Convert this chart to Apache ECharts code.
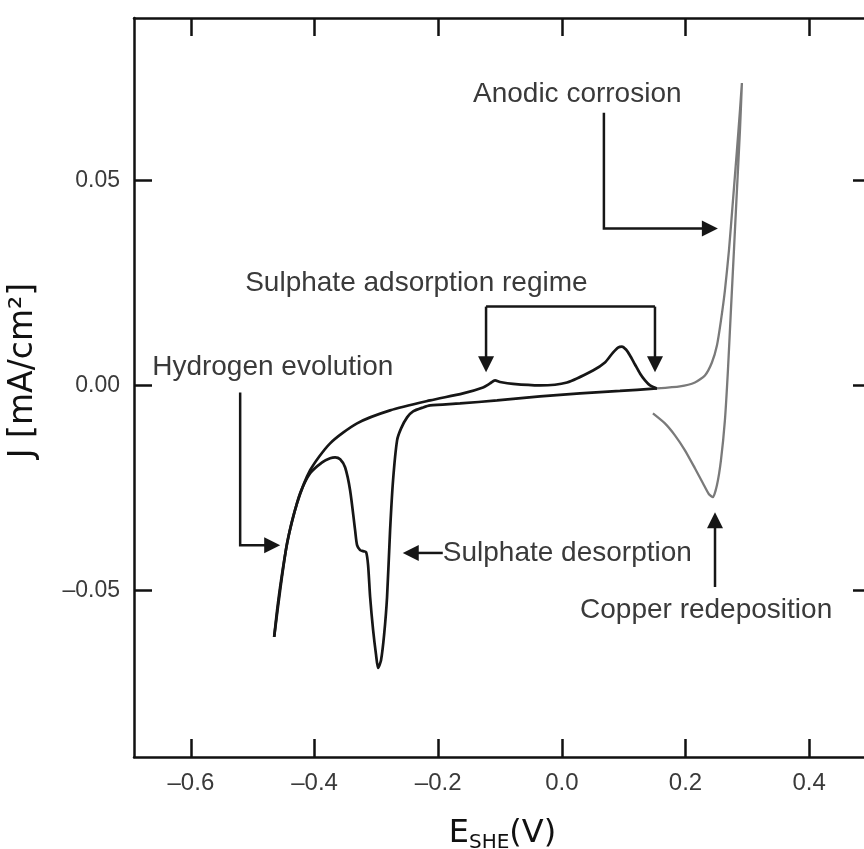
<!DOCTYPE html>
<html>
<head>
<meta charset="utf-8">
<script src="https://cdn.jsdelivr.net/npm/echarts@6/dist/echarts.min.js"></script>
<style>
  html, body { margin: 0; padding: 0; background: #fff; }
  #chart { width: 864px; height: 849px; }
</style>
</head>
<body>
<div id="chart"></div>
<script>
// axis ticks
var xTicks = [-0.6, -0.4, -0.2, 0.0, 0.2, 0.4];
var yTicks = [-0.05, 0.0, 0.05];

// cathodic sweep, black: from 0.15 V back down to hydrogen evolution
var cathodic = [
  [0.1538, -0.00073], [0.0940, -0.00134], [0.0293, -0.00194], [-0.0353, -0.00267],
  [-0.1048, -0.00365], [-0.1647, -0.00438], [-0.2132, -0.00486], [-0.2245, -0.00535],
  [-0.2406, -0.00632], [-0.2503, -0.00778], [-0.2600, -0.01045], [-0.2665, -0.01337],
  [-0.2730, -0.02309], [-0.2778, -0.03525], [-0.2827, -0.05153], [-0.2875, -0.06077],
  [-0.2924, -0.06685], [-0.2972, -0.06879], [-0.3005, -0.06563], [-0.3053, -0.05955],
  [-0.3101, -0.05153], [-0.3134, -0.04375], [-0.3166, -0.04059], [-0.3215, -0.04035],
  [-0.3263, -0.04011], [-0.3312, -0.03889], [-0.3344, -0.03525], [-0.3425, -0.02552],
  [-0.3506, -0.01993], [-0.3586, -0.01799], [-0.3667, -0.01750], [-0.3748, -0.01774],
  [-0.3877, -0.01872], [-0.4071, -0.02139], [-0.4233, -0.02625], [-0.4346, -0.03208],
  [-0.4443, -0.03840], [-0.4540, -0.04740], [-0.4605, -0.05469], [-0.4653, -0.06125]
];

// anodic sweep, black: hydrogen region up through the sulphate peaks
var anodic = [
  [-0.4653, -0.06125], [-0.4556, -0.04983], [-0.4443, -0.03840], [-0.4282, -0.02868],
  [-0.4071, -0.02066], [-0.3748, -0.01410], [-0.3312, -0.00924], [-0.2778, -0.00608],
  [-0.2132, -0.00365], [-0.1598, -0.00194], [-0.1275, -0.00049], [-0.1162, 0.00049],
  [-0.1081, 0.00122], [-0.1000, 0.00085], [-0.0790, 0.00036], [-0.0353, 0.0],
  [0.0083, 0.00073], [0.0503, 0.00365], [0.0697, 0.00559], [0.0827, 0.00802],
  [0.0908, 0.00924], [0.0972, 0.00948], [0.1037, 0.00875], [0.1102, 0.00729],
  [0.1183, 0.00510], [0.1264, 0.00292], [0.1345, 0.00122], [0.1426, 0.0],
  [0.1538, -0.00073]
];

// copper region, grey: anodic corrosion peak and redeposition
var copper = [
  [0.1538, -0.00073], [0.1910, -0.00024], [0.2152, 0.00073], [0.2314, 0.00243],
  [0.2427, 0.00559], [0.2508, 0.00972], [0.2573, 0.01580], [0.2637, 0.02309],
  [0.2702, 0.03281], [0.2767, 0.04497], [0.2831, 0.05712], [0.2880, 0.06685],
  [0.2912, 0.07365], [0.2880, 0.06198], [0.2831, 0.04740], [0.2783, 0.03281],
  [0.2734, 0.01823], [0.2686, 0.00365], [0.2637, -0.00851], [0.2573, -0.01823],
  [0.2508, -0.02431], [0.2443, -0.02722], [0.2379, -0.02650], [0.2282, -0.02382],
  [0.2152, -0.02017], [0.1991, -0.01580], [0.1829, -0.01215], [0.1667, -0.00924],
  [0.1473, -0.00681]
];

// annotations: text anchor [E, J] (left, middle) and arrow paths in data units
var notes = [
  { text: "Anodic corrosion", at: [-0.1437, 0.0710],
    path: [[0.0680, 0.0664], [0.0680, 0.0382], [0.2523, 0.0382]] },
  { text: "Sulphate adsorption regime", at: [-0.5122, 0.0250], path: null },
  { text: "Hydrogen evolution", at: [-0.6626, 0.0044],
    path: [[-0.5203, -0.0017], [-0.5203, -0.0389], [-0.4556, -0.0389]] },
  { text: "Sulphate desorption", at: [-0.1926, -0.0408],
    path: [[-0.1926, -0.0408], [-0.2573, -0.0408]] },
  { text: "Copper redeposition", at: [0.0294, -0.0547],
    path: [[0.2477, -0.0491], [0.2477, -0.0309]] }
];
// bracket over the sulphate adsorption regime
var bracketE = [-0.1226, 0.1506];
var bracketTop = 0.0192;
var bracketTip = 0.0032;

var dash = function (v, d) {
  return v.toFixed(d).replace("-", "\u2013");
};

var chart = echarts.init(document.getElementById("chart"));

var labelColor = "#3a3a3a";
var xRange = { min: -0.692, max: 0.5 };
var yRange = { min: -0.0905, max: 0.0895 };

var option = {
  animation: false,
  backgroundColor: "#fff",
  grid: { left: 134, top: 18, width: 737, height: 739, outerBoundsMode: "none", containLabel: false },
  xAxis: [
    {
      type: "value",
      min: xRange.min,
      max: xRange.max,
      position: "bottom",
      name: "{m|E}{s|SHE}{m|(V)}",
      nameLocation: "middle",
      nameGap: 58,
      nameTextStyle: {
        rich: {
          m: { fontSize: 32, fontFamily: "DejaVu Sans", color: "#111", lineHeight: 38 },
          s: { fontSize: 20, fontFamily: "DejaVu Sans", color: "#111", verticalAlign: "bottom", lineHeight: 22 }
        }
      },
      axisLine: { show: true, onZero: false, lineStyle: { color: "#111", width: 2.5 } },
      axisTick: { show: true, inside: true, length: 18, customValues: xTicks, lineStyle: { color: "#111", width: 2.5 } },
      axisLabel: {
        customValues: xTicks,
        margin: 14,
        fontSize: 24,
        fontFamily: "Liberation Sans",
        color: labelColor,
        formatter: function (v) { return dash(v, 1); }
      },
      splitLine: { show: false }
    },
    {
      type: "value",
      min: xRange.min,
      max: xRange.max,
      position: "top",
      axisLine: { show: true, onZero: false, lineStyle: { color: "#111", width: 2.5 } },
      axisTick: { show: true, inside: true, length: 18, customValues: xTicks, lineStyle: { color: "#111", width: 2.5 } },
      axisLabel: { show: false },
      splitLine: { show: false }
    }
  ],
  yAxis: [
    {
      type: "value",
      min: yRange.min,
      max: yRange.max,
      position: "left",
      name: "J [mA/cm\u00b2]",
      nameLocation: "middle",
      nameRotate: 90,
      nameGap: 94,
      nameTextStyle: { fontSize: 33, fontFamily: "DejaVu Sans", color: "#111", padding: [0, 0, 0, 34] },
      axisLine: { show: true, onZero: false, lineStyle: { color: "#111", width: 2.5 } },
      axisTick: { show: true, inside: true, length: 18, customValues: yTicks, lineStyle: { color: "#111", width: 2.5 } },
      axisLabel: {
        customValues: yTicks,
        margin: 14,
        fontSize: 23,
        fontFamily: "Liberation Sans",
        color: labelColor,
        formatter: function (v) { return dash(v, 2); }
      },
      splitLine: { show: false }
    },
    {
      type: "value",
      min: yRange.min,
      max: yRange.max,
      position: "right",
      axisLine: { show: true, onZero: false, lineStyle: { color: "#111", width: 2.5 } },
      axisTick: { show: true, inside: true, length: 18, customValues: yTicks, lineStyle: { color: "#111", width: 2.5 } },
      axisLabel: { show: false },
      splitLine: { show: false }
    }
  ],
  series: [
    {
      name: "cathodic",
      type: "line",
      data: cathodic,
      smooth: 0.25,
      symbol: "none",
      lineStyle: { color: "#161616", width: 2.7 }
    },
    {
      name: "anodic",
      type: "line",
      data: anodic,
      smooth: 0.25,
      symbol: "none",
      lineStyle: { color: "#161616", width: 2.7 }
    },
    {
      name: "copper",
      type: "line",
      data: copper,
      smooth: 0.2,
      symbol: "none",
      lineStyle: { color: "#7a7a7a", width: 2.3 }
    }
  ]
};

chart.setOption(option);

// annotation drawing, positioned through the grid's own scales
function px(p) {
  return chart.convertToPixel({ gridIndex: 0 }, p);
}
function head(tip, from) {
  var dx = tip[0] - from[0], dy = tip[1] - from[1];
  var len = Math.sqrt(dx * dx + dy * dy) || 1;
  dx /= len; dy /= len;
  var L = 16, W = 8;
  var bx = tip[0] - dx * L, by = tip[1] - dy * L;
  return {
    type: "polygon",
    shape: { points: [tip, [bx - dy * W, by + dx * W], [bx + dy * W, by - dx * W]] },
    style: { fill: "#161616" },
    z: 10
  };
}
function arrowPath(pts) {
  var out = [];
  var p = pts.map(px);
  var last = p[p.length - 1], prev = p[p.length - 2];
  var dx = last[0] - prev[0], dy = last[1] - prev[1];
  var len = Math.sqrt(dx * dx + dy * dy) || 1;
  var trimmed = p.slice(0, -1).concat([[last[0] - dx / len * 12, last[1] - dy / len * 12]]);
  out.push({
    type: "polyline",
    shape: { points: trimmed },
    style: { stroke: "#161616", lineWidth: 2.5, fill: null },
    z: 10
  });
  out.push(head(last, prev));
  return out;
}

var graphics = [];
notes.forEach(function (n) {
  var a = px(n.at);
  graphics.push({
    type: "text",
    x: a[0],
    y: a[1],
    style: {
      text: n.text,
      font: "28px 'Liberation Sans'",
      fill: labelColor,
      textAlign: "left",
      textVerticalAlign: "middle"
    },
    z: 10
  });
  if (n.path) graphics = graphics.concat(arrowPath(n.path));
});
var bl = px([bracketE[0], bracketTop]);
var br = px([bracketE[1], bracketTop]);
graphics.push({
  type: "polyline",
  shape: { points: [bl, br] },
  style: { stroke: "#161616", lineWidth: 2.5, fill: null },
  z: 10
});
bracketE.forEach(function (e) {
  graphics = graphics.concat(arrowPath([[e, bracketTop], [e, bracketTip]]));
});

chart.setOption({ graphic: graphics });
</script>
</body>
</html>
